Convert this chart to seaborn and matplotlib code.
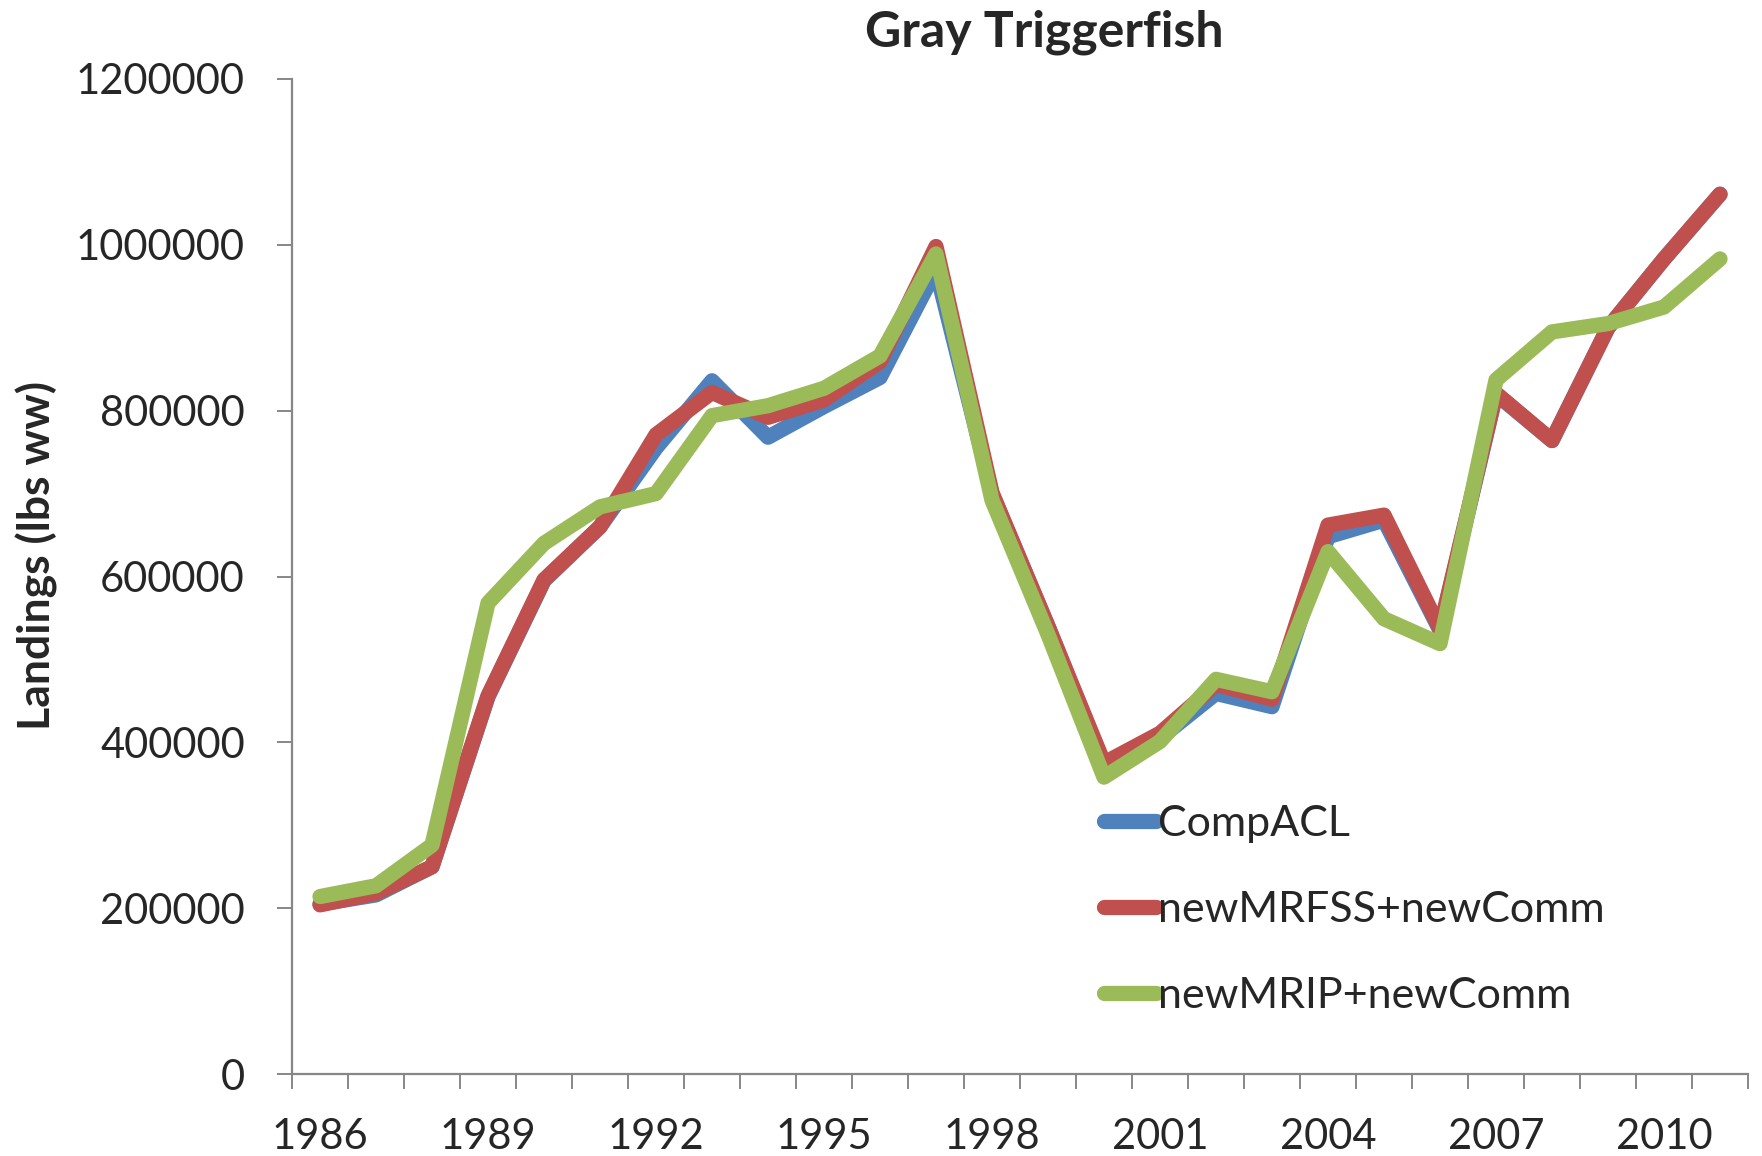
import numpy as np
import pandas as pd
import matplotlib
matplotlib.use("Agg")
import matplotlib.pyplot as plt
from matplotlib.ticker import FixedLocator, NullFormatter
from matplotlib.lines import Line2D
import seaborn as sns

# Annual landings (lbs whole weight)
years = list(range(1986, 2012))

comp_acl = [205000, 216000, 250000, 455000, 595000, 660000, 755000, 836000,
            768000, 805000, 840000, 970000, 700000, 540000, 372000, 405000,
            459000, 443000, 648000, 668000, 535000, 820000, 764000, 900000,
            983000, 1061000]

new_mrfss_comm = [204000, 218000, 250000, 456000, 596000, 660000, 771000, 822000,
                  792000, 813000, 859000, 998000, 701000, 540000, 375000, 411000,
                  470000, 452000, 662000, 674000, 537000, 821000, 764000, 900000,
                  983000, 1061000]

new_mrip_comm = [214000, 227000, 276000, 568000, 640000, 684000, 700000, 794000,
                 806000, 827000, 866000, 989000, 692000, 530000, 358000, 401000,
                 476000, 461000, 630000, 549000, 519000, 837000, 895000, 905000,
                 925000, 983000]

series_names = ["CompACL", "newMRFSS+newComm", "newMRIP+newComm"]
series_colors = ["#4F81BD", "#C0504D", "#9BBB59"]

y_ticks = [0, 200000, 400000, 600000, 800000, 1000000, 1200000]
x_label_years = [1986, 1989, 1992, 1995, 1998, 2001, 2004, 2007, 2010]

df = pd.DataFrame({
    "Year": years * 3,
    "Landings": comp_acl + new_mrfss_comm + new_mrip_comm,
    "Series": [series_names[0]] * len(years)
              + [series_names[1]] * len(years)
              + [series_names[2]] * len(years),
})

sns.set_style("white")
plt.rcParams["font.family"] = ["Lato", "DejaVu Sans"]

W, H = 1762, 1156
fig = plt.figure(figsize=(W / 100, H / 100), dpi=100)
ax = fig.add_axes([292 / W, 1 - 1074 / H, (1748 - 292) / W, (1074 - 79) / H])

line_w = 11
sns.lineplot(data=df, x="Year", y="Landings", hue="Series",
             hue_order=series_names, palette=series_colors,
             linewidth=line_w, ax=ax, legend=False,
             solid_joinstyle="round", solid_capstyle="round")

ax.set_xlim(years[0] - 0.5, years[-1] + 0.5)
ax.set_ylim(0, 1200000)

axis_gray = "#878787"
for side in ["top", "right"]:
    ax.spines[side].set_visible(False)
for side in ["left", "bottom"]:
    ax.spines[side].set_color(axis_gray)
    ax.spines[side].set_linewidth(1.6)

# x axis: tick marks between categories, labels every third year
ax.set_xticks(x_label_years)
ax.set_xticklabels([str(y) for y in x_label_years])
ax.xaxis.set_minor_locator(FixedLocator(np.arange(years[0] - 0.5, years[-1] + 1.0, 1.0)))
ax.xaxis.set_minor_formatter(NullFormatter())
ax.tick_params(axis="x", which="major", length=0, pad=32, labelsize=30)
ax.tick_params(axis="x", which="minor", direction="out", length=11,
               width=1.4, color=axis_gray, bottom=True)

ax.set_yticks(y_ticks)
ax.set_yticklabels([str(v) for v in y_ticks])
ax.tick_params(axis="y", which="major", direction="out", length=11,
               width=1.4, color=axis_gray, pad=23, labelsize=30, left=True)

ax.set_xlabel("")
ax.set_ylabel("")

fig.text(37 / W, 1 - 556 / H, "Landings (lbs ww)", rotation=90,
         ha="center", va="center", fontsize=32, fontweight="bold")
fig.text(1044 / W, 1 - 32 / H, "Gray Triggerfish",
         ha="center", va="center", fontsize=36, fontweight="bold")

handles = [Line2D([0], [0], color=c, linewidth=line_w, solid_capstyle="round")
           for c in series_colors]
leg = ax.legend(handles, series_names, loc="center left",
                bbox_to_anchor=(1104 / W, 1 - 910 / H),
                bbox_transform=fig.transFigure, frameon=False,
                fontsize=31, handlelength=1.2, handletextpad=0.05,
                labelspacing=1.12, borderpad=0, borderaxespad=0)

fig.savefig("out.png", dpi=100, facecolor="white")
